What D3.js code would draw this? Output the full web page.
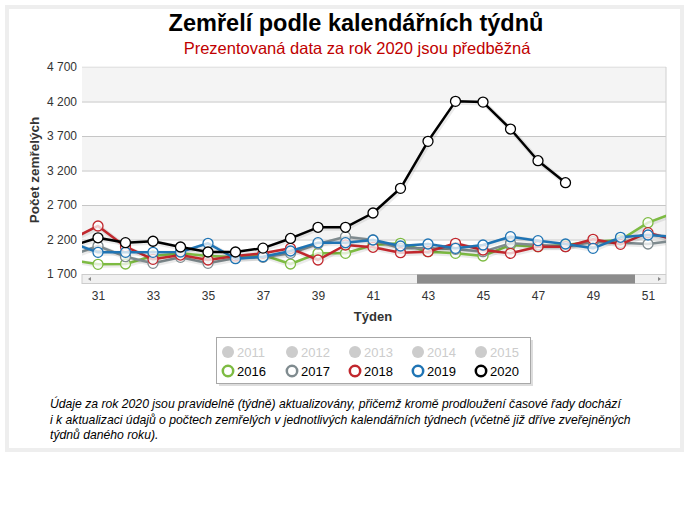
<!DOCTYPE html>
<html><head><meta charset="utf-8">
<script src="https://cdn.jsdelivr.net/npm/d3@7/dist/d3.min.js"></script>
<style>
body{margin:0;background:#fff;font-family:Arial,"Liberation Sans",sans-serif;}
svg text{font-family:Arial,"Liberation Sans",sans-serif;}
</style></head>
<body><svg id="c" width="690" height="513"></svg>
<script>
// ---- data ----
const weeks = [30,31,32,33,34,35,36,37,38,39,40,41,42,43,44,45,46,47,48,49,50,51,52];
const y2016 = [1906,1840,1845,1961,2000,1961,1946,1975,1845,2000,2000,2120,2145,2023,2000,1961,2120,2096,2120,2168,2193,2444,2595];
const y2017 = [1964,2106,1951,1855,1942,1855,1932,1942,2000,2135,2241,2193,2072,2072,2058,2023,2145,2120,2096,2168,2154,2135,2185];
const y2018 = [2196,2396,2096,1913,1975,1903,1961,2000,2072,1903,2120,2087,2009,2023,2145,2048,2000,2096,2096,2203,2130,2299,2193];
const y2019 = [2155,2014,2014,2014,2019,2145,1922,1951,2033,2154,2154,2193,2106,2135,2072,2120,2241,2183,2135,2072,2232,2265,2240];
const y2020 = [2100,2225,2154,2175,2091,2019,2019,2075,2215,2377,2377,2584,2942,3623,4202,4192,3801,3342,3023];
const seriesNames = ["2016","2017","2018","2019","2020"];
const seriesColors = ["#7dbb42","#7f8b8f","#c1272d","#1f74b4","#000000"];
const disabledYears = ["2011","2012","2013","2014","2015"];
const yTicks = [1700,2200,2700,3200,3700,4200,4700];
const xTicks = [31,33,35,37,39,41,43,45,47,49,51];
const title = "Zemřelí podle kalendářních týdnů";
const subtitle = "Prezentovaná data za rok 2020 jsou předběžná";
const yTitle = "Počet zemřelých";
const xTitle = "Týden";
const noteLines = [
 "Údaje za rok 2020 jsou pravidelně (týdně) aktualizovány, přičemž kromě prodloužení časové řady dochází",
 "i k aktualizaci údajů o počtech zemřelých v jednotlivých kalendářních týdnech (včetně již dříve zveřejněných",
 "týdnů daného roku)."
];

const svg = d3.select("#c");
// frame
svg.append("rect").attr("x",7).attr("y",7).attr("width",675).attr("height",443)
  .attr("fill","#fff").attr("stroke","#eeeeee").attr("stroke-width",4);

const L=82, R=666, T=67, B=274;
const x = d3.scaleLinear().domain([31,51]).range([98,648]);
const y = d3.scaleLinear().domain([1700,4700]).range([B,T]);

// bands
for(let i=0;i<yTicks.length-1;i++){
  svg.append("rect").attr("x",L).attr("width",R-L)
    .attr("y",y(yTicks[i+1])).attr("height",y(yTicks[i])-y(yTicks[i+1]))
    .attr("fill", (i%2===1)?"#f4f4f4":"#ffffff");
}
svg.append("rect").attr("x",L).attr("y",T-1).attr("width",R-L).attr("height",1).attr("fill","#f4f4f4");

const fmt = d3.formatLocale({decimal:",",thousands:"\u00a0",grouping:[3],currency:["",""]}).format(",d");
// grid
const gy = svg.append("g").attr("transform",`translate(${L},0)`)
  .call(d3.axisLeft(y).tickValues(yTicks).tickSize(-(R-L)).tickFormat(""));
gy.select(".domain").remove();
gy.selectAll("line").attr("stroke","#c6c6c6");
gy.selectAll(".tick").filter(d=>d===4700).select("line").attr("stroke","#e4e4e4");
// right border
svg.append("line").attr("x1",R).attr("x2",R).attr("y1",T).attr("y2",B).attr("stroke","#d0d0d0");
// y labels
const gyl = svg.append("g").attr("transform",`translate(${L},0)`)
  .call(d3.axisLeft(y).tickValues(yTicks).tickSize(0).tickPadding(5).tickFormat(fmt));
gyl.select(".domain").remove();
gyl.selectAll("text").attr("font-size",12).attr("fill","#333");

// lines
const clip = svg.append("clipPath").attr("id","pc").append("rect")
  .attr("x",L).attr("y",T-10).attr("width",R-L).attr("height",B-T+10);
const plot = svg.append("g").attr("clip-path","url(#pc)");
const allSeries = [y2016,y2017,y2018,y2019,y2020];
const line = d3.line().x(d=>x(d[0])).y(d=>y(d[1]));
allSeries.forEach((vals,si)=>{
  const pts = vals.map((v,i)=>[weeks[i],v]);
  plot.append("path").datum(pts).attr("d",line).attr("fill","none")
    .attr("stroke","#000").attr("stroke-opacity",0.08).attr("stroke-width",5)
    .attr("transform","translate(1,1)");
  plot.append("path").datum(pts).attr("d",line).attr("fill","none")
    .attr("stroke",seriesColors[si]).attr("stroke-width",2.5).attr("stroke-linejoin","round");
  plot.selectAll(null).data(pts).enter().append("circle")
    .attr("cx",d=>x(d[0])).attr("cy",d=>y(d[1])).attr("r",5)
    .attr("fill","#fff").attr("fill-opacity",si===4?1:0.75)
    .attr("stroke",seriesColors[si]).attr("stroke-width",1.3);
});

// scrollbar
svg.append("rect").attr("x",L).attr("y",B+0.5).attr("width",R-L).attr("height",9)
  .attr("fill","#f0f0f0").attr("stroke","#cccccc").attr("stroke-width",1);
svg.append("rect").attr("x",417).attr("y",B+0.5).attr("width",218).attr("height",9).attr("fill","#8c8c8c");
svg.append("path").attr("d",`M${L+6},${B+5} l3,-2 l0,4 z`).attr("fill","#888");
svg.append("path").attr("d",`M${R-5},${B+5} l-3,-2 l0,4 z`).attr("fill","#888");

// x axis
const gx = svg.append("g").attr("transform",`translate(0,${B+10})`)
  .call(d3.axisBottom(x).tickValues(xTicks).tickSize(0).tickPadding(7).tickFormat(d3.format("d")));
gx.select(".domain").remove();
gx.selectAll("text").attr("font-size",12).attr("fill","#333");

svg.append("text").attr("x",373).attr("y",321).attr("text-anchor","middle")
  .attr("font-size",13).attr("font-weight","bold").attr("fill","#333").text(xTitle);
svg.append("text").attr("transform","translate(39,170) rotate(-90)").attr("text-anchor","middle")
  .attr("font-size",13.5).attr("font-weight","bold").attr("fill","#333").text(yTitle);

// titles
svg.append("text").attr("x",356).attr("y",31).attr("text-anchor","middle")
  .attr("font-size",23.5).attr("font-weight","bold").attr("fill","#000").text(title);
svg.append("text").attr("x",357).attr("y",54).attr("text-anchor","middle")
  .attr("font-size",16.5).attr("fill","#c00000").text(subtitle);

// legend
svg.append("rect").attr("x",219).attr("y",340).attr("width",314).attr("height",46).attr("fill","#bbb").attr("opacity",0.5);
svg.append("rect").attr("x",216.5).attr("y",337.5).attr("width",314).attr("height",46)
  .attr("fill","#fff").attr("stroke","#a8a8a8").attr("stroke-width",1);
const colX = [228,292,355,418,481];
disabledYears.forEach((t,i)=>{
  svg.append("circle").attr("cx",colX[i]).attr("cy",352).attr("r",6).attr("fill","#cccccc");
  svg.append("text").attr("x",colX[i]+9).attr("y",356.5).attr("font-size",13).attr("fill","#cccccc").text(t);
});
seriesNames.forEach((t,i)=>{
  svg.append("circle").attr("cx",colX[i]).attr("cy",371).attr("r",5.2).attr("fill","#fff")
    .attr("stroke",seriesColors[i]).attr("stroke-width",2.5);
  svg.append("text").attr("x",colX[i]+9).attr("y",375.5).attr("font-size",13).attr("fill","#000").text(t);
});

// note
noteLines.forEach((t,i)=>{
  svg.append("text").attr("x",50).attr("y",408+i*15.5).attr("font-size",12.2)
    .attr("font-style","italic").attr("fill","#000").text(t);
});
</script></body></html>
